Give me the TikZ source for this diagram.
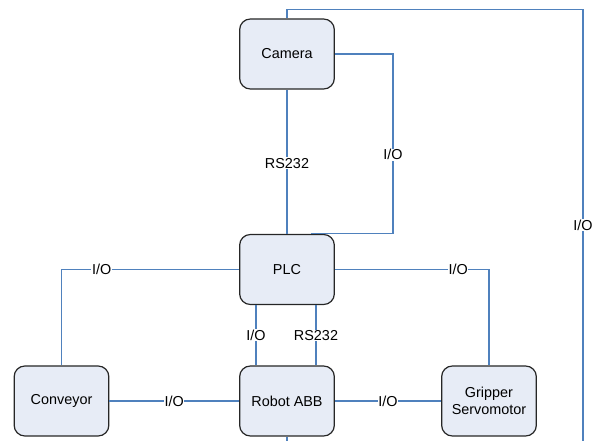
\documentclass[tikz,border=0pt]{standalone}
\usepackage{fontspec}
\setmainfont{Liberation Sans}
\begin{document}
\begin{tikzpicture}[x=0.75pt,y=-0.75pt,
  blk/.style={draw=black!85,line width=0.9pt,fill=boxfill,rounded corners=8pt,minimum width=71pt,minimum height=52.5pt,align=center,inner sep=1pt,font=\fontsize{10.8}{12.5}\selectfont},
  wire/.style={draw=wireblue,line width=0.8pt},
  lbl/.style={fill=white,inner sep=0.4pt,font=\fontsize{10.8}{12}\selectfont}]
\definecolor{boxfill}{HTML}{E7ECF6}
\definecolor{wireblue}{HTML}{4F81BD}
\useasboundingbox (0,0) rectangle (594,441);
\node[blk] (cam) at (287,54) {Camera};
\node[blk] (plc) at (287,269.5) {PLC};
\node[blk] (rob) at (287,401) {Robot ABB};
\node[blk] (con) at (61.5,401) {Conveyor};
\node[blk] (grip) at (489,401) {Gripper\\Servomotor};
\coordinate (robend) at (287,441);
\coordinate (rtend) at (583,441);
% camera top to far right
\draw[wire] (cam.north) -- (287,9.5) -| (rtend) node[lbl,pos=0.75] {I/O};
% camera rs232
\draw[wire] (cam.south) -- (plc.north) node[lbl,midway,yshift=-1pt] {RS232};
% camera io
\draw[wire] (cam.east) -- (393,54) |- ([xshift=18pt]plc.north) node[lbl,pos=0.28] {I/O};
% plc right to gripper
\draw[wire] (plc.east) -| (grip.north) node[lbl,pos=0.40] {I/O};
% plc left to conveyor
\draw[wire] (plc.west) -| (con.north) node[lbl,pos=0.387] {I/O};
% plc bottom
\draw[wire] ([xshift=-23.25pt]plc.south) -- ([xshift=-23.25pt]rob.north) node[lbl,midway] {I/O};
\draw[wire] ([xshift=21.75pt]plc.south) -- ([xshift=21.75pt]rob.north) node[lbl,midway] {RS232};
% bottom row
\draw[wire] (con.east) -- (rob.west) node[lbl,pos=0.5] {I/O};
\draw[wire] (rob.east) -- (grip.west) node[lbl,pos=0.5] {I/O};
\draw[wire] (rob.south) -- (robend);
\end{tikzpicture}
\end{document}
